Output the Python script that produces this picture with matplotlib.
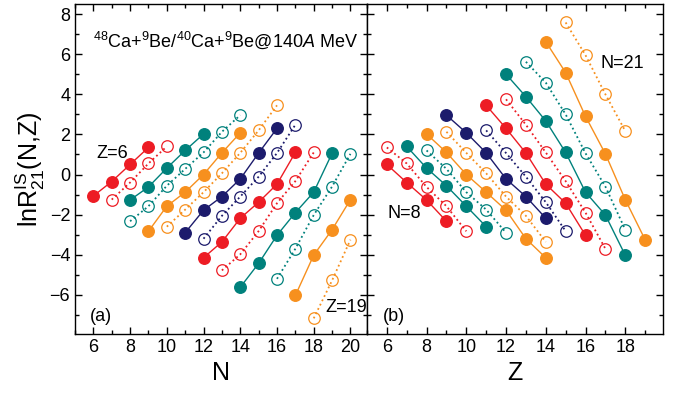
import matplotlib
matplotlib.use("Agg")
import matplotlib.pyplot as plt
from matplotlib.ticker import MultipleLocator

plt.rcParams['font.family'] = ['Liberation Sans', 'DejaVu Sans']
plt.rcParams['mathtext.fontset'] = 'custom'
plt.rcParams['mathtext.rm'] = 'Liberation Sans'
plt.rcParams['mathtext.it'] = 'Liberation Sans:italic'

# panel (a): lnR vs N, one line per Z (first N, values)
left_Z = [6, 7, 8, 9, 10, 11, 12, 13, 14, 15, 16, 17, 18, 19]
left_N0 = [6, 7, 8, 8, 9, 10, 11, 12, 12, 13, 14, 16, 17, 18]
left_vals = [
    [-1.07, -0.35, 0.5, 1.35],
    [-1.25, -0.4, 0.55, 1.4],
    [-1.27, -0.62, 0.32, 1.2, 2.02],
    [-2.33, -1.58, -0.56, 0.28, 1.1, 2.13, 2.96],
    [-2.83, -1.58, -0.88, 0.0, 1.08, 2.08],
    [-2.6, -1.75, -0.88, 0.06, 1.08, 2.2, 3.45],
    [-2.9, -1.78, -1.1, -0.22, 1.07, 2.3],
    [-3.2, -2.06, -1.1, -0.11, 1.07, 2.48],
    [-4.15, -3.36, -2.18, -1.38, -0.48, 1.1],
    [-4.78, -3.98, -2.82, -1.43, -0.33, 1.1],
    [-5.62, -4.43, -3.03, -1.9, -0.88, 1.06],
    [-5.2, -3.7, -2.02, -0.6, 1.03],
    [-6.03, -4.02, -2.75, -1.25],
    [-7.17, -5.28, -3.25],
]

# panel (b): lnR vs Z, one line per N (first Z, values)
right_N = [8, 9, 10, 11, 12, 13, 14, 15, 16, 17, 18, 19, 20, 21]
right_Z0 = [6, 6, 7, 8, 8, 9, 9, 11, 11, 12, 12, 13, 14, 15]
right_vals = [
    [0.5, -0.4, -1.27, -2.33],
    [1.35, 0.55, -0.62, -1.58, -2.83],
    [1.4, 0.32, -0.56, -1.58, -2.6],
    [1.2, 0.28, -0.88, -1.75, -2.9],
    [2.02, 1.1, 0.0, -0.88, -1.78, -3.2, -4.15],
    [2.13, 1.08, 0.06, -1.1, -2.06, -3.36],
    [2.96, 2.08, 1.08, -0.22, -1.1, -2.18],
    [2.2, 1.07, -0.11, -1.38, -2.82],
    [3.45, 2.3, 1.07, -0.48, -1.43, -3.03],
    [3.75, 2.48, 1.1, -0.33, -1.9, -3.7],
    [5.0, 3.88, 2.67, 1.1, -0.88, -2.02, -4.02],
    [5.62, 4.58, 3.0, 1.06, -0.6, -2.75],
    [6.62, 5.08, 2.9, 1.03, -1.25, -3.25],
    [7.58, 5.95, 4.0, 2.17],
]

colors = ['#ED1C24', '#00817C', '#F7901E', '#1C1B6C']


def draw_series(ax, keys, starts, vals, first):
    for k, x0, v in zip(keys, starts, vals):
        c = colors[((k - first) // 2) % 4]
        xs = list(range(x0, x0 + len(v)))
        if (k - first) % 2 == 0:
            ax.plot(xs, v, '-', color=c, lw=1.0, marker='o', ms=8.3,
                    mfc=c, mec=c)
        else:
            ax.plot(xs, v, ':', color=c, lw=1.3, marker='o', ms=8.3,
                    mfc='none', mec=c, mew=0.9)


def style_axis(ax):
    ax.xaxis.set_major_locator(MultipleLocator(2))
    ax.xaxis.set_minor_locator(MultipleLocator(1))
    ax.yaxis.set_major_locator(MultipleLocator(2))
    ax.yaxis.set_minor_locator(MultipleLocator(1))
    ax.tick_params(which='both', direction='in', top=True, right=True,
                   labelsize=13, width=1.0)
    ax.tick_params(which='major', length=5)
    ax.tick_params(which='minor', length=3)
    for s in ax.spines.values():
        s.set_linewidth(1.0)
    ax.set_ylim(-7.95, 8.5)


fig = plt.figure(figsize=(6.83, 3.97), dpi=100)
ax1 = fig.add_axes([0.1098, 0.1587, 0.4275, 0.8312])
ax2 = fig.add_axes([0.5373, 0.1587, 0.4334, 0.8312])

draw_series(ax1, left_Z, left_N0, left_vals, 6)
draw_series(ax2, right_N, right_Z0, right_vals, 8)

style_axis(ax1)
style_axis(ax2)
ax1.set_xlim(5, 20.9)
ax2.set_xlim(5, 19.9)
ax2.tick_params(labelleft=False)

ax1.set_xlabel('N', fontsize=18, labelpad=4)
ax2.set_xlabel('Z', fontsize=18, labelpad=4)
ax1.set_ylabel(r'ln$\mathrm{R}^{\mathrm{IS}}_{21}$(N,Z)', fontsize=18,
               labelpad=2)

ax1.text(0.062, 0.89, r'$^{48}$Ca+$^{9}$Be/$^{40}$Ca+$^{9}$Be@140$\it{A}$ MeV',
         transform=ax1.transAxes, fontsize=13, va='center', ha='left')
ax1.text(0.074, 0.548, 'Z=6', transform=ax1.transAxes, fontsize=13, va='center')
ax1.text(0.051, 0.052, '(a)', transform=ax1.transAxes, fontsize=13, va='center')
ax1.text(0.856, 0.081, 'Z=19', transform=ax1.transAxes, fontsize=13, va='center')
ax2.text(0.071, 0.366, 'N=8', transform=ax2.transAxes, fontsize=13, va='center')
ax2.text(0.054, 0.052, '(b)', transform=ax2.transAxes, fontsize=13, va='center')
ax2.text(0.79, 0.82, 'N=21', transform=ax2.transAxes, fontsize=13, va='center')

fig.savefig('out.png', dpi=100)
